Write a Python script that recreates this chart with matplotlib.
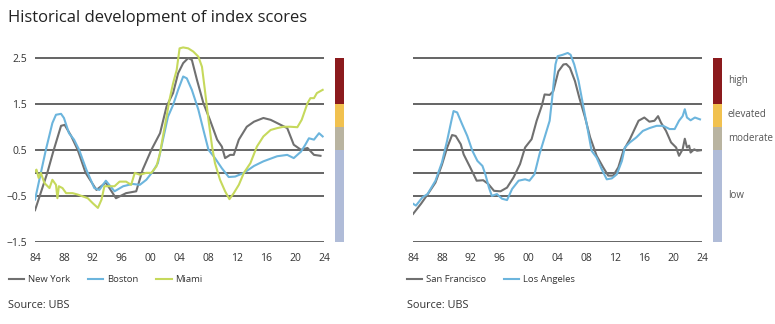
import matplotlib.pyplot as plt

plt.rcParams['font.family'] = ['Open Sans', 'DejaVu Sans']

# left panel
ny_years = [1984.0, 1985.7, 1986.5, 1987.6, 1988.1, 1989.0, 1989.9, 1991.0, 1992.5, 1993.8, 1995.2, 1996.6,
            1998.0, 1998.9, 2000.1, 2001.3, 2002.2, 2003.1, 2003.8, 2004.5, 2005.2, 2005.7, 2006.4, 2007.3,
            2008.2, 2009.2, 2009.85, 2010.3, 2011.0, 2011.5, 2012.2, 2013.3, 2014.3, 2015.6, 2016.6, 2017.5,
            2018.9, 2019.8, 2020.8, 2021.7, 2022.6, 2023.5]
ny_vals = [-0.81, 0.0, 0.45, 1.02, 1.04, 0.8, 0.5, 0.0, -0.37, -0.21, -0.55, -0.44,
           -0.4, 0.07, 0.5, 0.86, 1.44, 1.73, 2.16, 2.38, 2.49, 2.45, 2.02, 1.51,
           1.15, 0.72, 0.57, 0.32, 0.39, 0.39, 0.72, 1.0, 1.11, 1.19, 1.15, 1.08,
           0.97, 0.61, 0.5, 0.54, 0.39, 0.37]

bos_years = [1984.0, 1985.5, 1986.4, 1986.9, 1987.6, 1988.0, 1988.7, 1989.4, 1990.1, 1991.1, 1992.2, 1992.9,
             1993.8, 1995.0, 1996.2, 1997.5, 1998.5, 1999.4, 2000.3, 2001.0, 2001.7, 2002.4, 2003.1, 2003.8,
             2004.5, 2005.0, 2005.7, 2006.6, 2007.3, 2008.0, 2008.9, 2009.85, 2010.8, 2011.7, 2012.9, 2014.3,
             2015.6, 2017.5, 2018.9, 2019.8, 2020.8, 2021.4, 2021.9, 2022.6, 2023.3, 2023.8]
bos_vals = [-0.58, 0.5, 1.08, 1.26, 1.28, 1.19, 0.86, 0.72, 0.5, 0.07, -0.33, -0.37,
            -0.17, -0.4, -0.29, -0.24, -0.26, -0.15, 0.03, 0.21, 0.72, 1.22, 1.47, 1.8,
            2.09, 2.05, 1.8, 1.37, 0.93, 0.5, 0.32, 0.1, -0.09, -0.08, 0.0, 0.15,
            0.25, 0.36, 0.39, 0.32, 0.46, 0.61, 0.75, 0.72, 0.86, 0.79]

mia_years = [1984.0, 1984.2, 1984.5, 1984.8, 1985.3, 1986.0, 1986.4, 1986.9, 1987.1, 1987.3, 1987.8, 1988.3,
             1989.2, 1989.9, 1990.6, 1991.3, 1992.0, 1992.7, 1993.2, 1993.6, 1994.3, 1995.0, 1995.7, 1996.6,
             1997.3, 1997.8, 1998.5, 1999.4, 2000.1, 2000.8, 2001.3, 2001.7, 2002.2, 2002.6, 2003.1, 2003.6,
             2004.0, 2004.5, 2005.2, 2005.9, 2006.6, 2007.1, 2007.5, 2008.0, 2008.5, 2008.9, 2009.6, 2010.3,
             2010.9, 2011.5, 2012.2, 2012.9, 2013.8, 2014.7, 2015.6, 2016.6, 2017.5, 2018.4, 2019.3, 2020.3,
             2020.9, 2021.7, 2022.1, 2022.6, 2023.0, 2023.8]
mia_vals = [0.03, 0.07, -0.11, 0.0, -0.22, -0.33, -0.15, -0.26, -0.55, -0.29, -0.33, -0.44,
            -0.44, -0.47, -0.51, -0.55, -0.66, -0.76, -0.58, -0.29, -0.29, -0.29, -0.19, -0.19,
            -0.26, 0.0, -0.04, 0.0, 0.0, 0.14, 0.43, 0.79, 1.22, 1.58, 1.94, 2.23,
            2.7, 2.72, 2.7, 2.63, 2.52, 2.3, 1.8, 1.15, 0.57, 0.21, -0.15, -0.4,
            -0.57, -0.44, -0.26, 0.0, 0.21, 0.57, 0.79, 0.93, 0.97, 1.0, 1.0, 0.99,
            1.15, 1.51, 1.62, 1.62, 1.73, 1.8]

# right panel
sf_years = [1984.0, 1985.1, 1986.0, 1987.1, 1988.0, 1988.7, 1989.4, 1989.9, 1990.6, 1991.0, 1991.9, 1992.8,
            1993.7, 1994.4, 1995.2, 1996.1, 1997.0, 1997.9, 1998.8, 1999.5, 2000.4, 2001.1, 2001.8, 2002.2,
            2002.9, 2003.4, 2004.1, 2004.8, 2005.2, 2005.7, 2006.4, 2007.0, 2007.8, 2008.5, 2009.4, 2010.3,
            2011.0, 2011.7, 2012.4, 2013.1, 2014.0, 2015.2, 2016.0, 2016.7, 2017.4, 2017.9, 2018.3, 2019.0,
            2019.7, 2020.4, 2020.8, 2021.3, 2021.6, 2021.9, 2022.2, 2022.4, 2022.9, 2023.3, 2023.8]
sf_vals = [-0.89, -0.67, -0.47, -0.21, 0.18, 0.54, 0.82, 0.8, 0.62, 0.4, 0.12, -0.17,
           -0.16, -0.24, -0.39, -0.4, -0.32, -0.1, 0.19, 0.55, 0.73, 1.13, 1.45, 1.7,
           1.69, 1.77, 2.2, 2.35, 2.36, 2.28, 1.99, 1.63, 1.2, 0.77, 0.37, 0.12,
           -0.06, -0.06, 0.12, 0.48, 0.73, 1.13, 1.2, 1.11, 1.13, 1.23, 1.09, 0.91,
           0.66, 0.55, 0.37, 0.51, 0.74, 0.55, 0.59, 0.44, 0.51, 0.48, 0.49]

la_years = [1984.0, 1984.4, 1985.3, 1986.0, 1987.1, 1988.0, 1988.7, 1989.3, 1989.6, 1990.1, 1990.8, 1991.5,
            1992.2, 1992.9, 1993.6, 1994.0, 1994.5, 1994.9, 1995.6, 1996.3, 1997.0, 1997.7, 1998.6, 1999.5,
            2000.1, 2000.8, 2001.5, 2002.2, 2002.9, 2003.3, 2003.7, 2004.0, 2004.7, 2005.4, 2005.8, 2006.3,
            2006.9, 2007.5, 2008.2, 2008.7, 2009.4, 2010.1, 2010.8, 2011.5, 2012.2, 2012.9, 2013.3, 2014.0,
            2014.9, 2015.8, 2016.7, 2017.7, 2018.6, 2019.5, 2020.2, 2020.8, 2021.3, 2021.6, 2021.9, 2022.4,
            2023.0, 2023.7]
la_vals = [-0.67, -0.71, -0.53, -0.46, -0.17, 0.23, 0.69, 1.13, 1.34, 1.31, 1.05, 0.8,
           0.48, 0.26, 0.15, -0.03, -0.32, -0.5, -0.46, -0.56, -0.59, -0.35, -0.17, -0.14,
           -0.17, -0.03, 0.41, 0.77, 1.13, 1.7, 2.35, 2.53, 2.56, 2.6, 2.56, 2.35,
           1.99, 1.49, 0.91, 0.48, 0.33, 0.08, -0.14, -0.12, -0.03, 0.26, 0.55, 0.66,
           0.77, 0.91, 0.97, 1.02, 1.02, 0.95, 0.95, 1.13, 1.23, 1.38, 1.2, 1.14,
           1.2, 1.16]

x_ticks = [1984, 1988, 1992, 1996, 2000, 2004, 2008, 2012, 2016, 2020, 2024]
x_labels = ['84', '88', '92', '96', '00', '04', '08', '12', '16', '20', '24']
y_ticks = [2.5, 1.5, 0.5, -0.5, -1.5]
grid_levels = [2.5, 1.5, 0.5, 0, -0.5, -1.5]

band_edges = [-1.5, 0.5, 1.0, 1.5, 2.5]
band_colors = ['#b0bcd8', '#b9b4a1', '#f1c14f', '#8b1a1d']
band_names = ['low', 'moderate', 'elevated', 'high']
band_label_y = [-0.5, 0.75, 1.27, 2.0]

GRAY = '#707070'
BLUE = '#6cb5dd'
GREEN = '#c6d95c'
TXT = '#333333'

fig = plt.figure(figsize=(7.75, 3.24), dpi=100)
ylim = (-1.5, 2.8)


def make_panel(left, bar_left, series, show_y):
    ax = fig.add_axes([left, 0.253, 0.373, 0.612])
    for lv in grid_levels:
        ax.axhline(lv, color='#3a3a3a', lw=1.1, zorder=1)
    for yrs, vals, c, lab in series:
        ax.plot(yrs, vals, color=c, lw=1.5, label=lab, zorder=3)
    ax.set_xlim(1984, 2024)
    ax.set_ylim(*ylim)
    ax.set_xticks(x_ticks, x_labels)
    if show_y:
        ax.set_yticks(y_ticks, [f'{v:.1f}'.replace('-', '\u2212') for v in y_ticks])
    else:
        ax.set_yticks([])
    ax.tick_params(length=0, labelsize=7.5, colors=TXT)
    ax.tick_params(axis='x', pad=8)
    ax.tick_params(axis='y', pad=6)
    for s in ax.spines.values():
        s.set_visible(False)

    bx = fig.add_axes([bar_left, 0.253, 0.0116, 0.612])
    heights = [b - a for a, b in zip(band_edges[:-1], band_edges[1:])]
    bx.bar([0] * 4, heights, bottom=band_edges[:-1], width=1, color=band_colors)
    bx.set_xlim(-0.5, 0.5)
    bx.set_ylim(*ylim)
    bx.axis('off')
    return ax, bx


ax1, bx1 = make_panel(0.0452, 0.4323, [(ny_years, ny_vals, GRAY, 'New York'),
                                       (bos_years, bos_vals, BLUE, 'Boston'),
                                       (mia_years, mia_vals, GREEN, 'Miami')], True)
ax2, bx2 = make_panel(0.533, 0.920, [(sf_years, sf_vals, GRAY, 'San Francisco'),
                                     (la_years, la_vals, BLUE, 'Los Angeles')], False)

for name, yv in zip(band_names, band_label_y):
    bx2.text(1.15, yv, name, fontsize=7, color='#555555', va='center', ha='left', clip_on=False)

fig.text(0.010, 0.945, 'Historical development of index scores', fontsize=12, color='#222222', va='center')

leg_kw = dict(loc='center left', frameon=False, fontsize=6.8, borderpad=0, borderaxespad=0,
              handlelength=1.6, columnspacing=1.9, handletextpad=0.42, labelcolor=TXT,
              bbox_transform=fig.transFigure)
h1, l1 = ax1.get_legend_handles_labels()
h2, l2 = ax2.get_legend_handles_labels()
fig.legend(h1, l1, bbox_to_anchor=(0.0116, 0.136), ncol=3, **leg_kw)
fig.legend(h2, l2, bbox_to_anchor=(0.525, 0.136), ncol=2, **leg_kw)

fig.text(0.0103, 0.057, 'Source: UBS', fontsize=7.8, color=TXT, va='center')
fig.text(0.525, 0.057, 'Source: UBS', fontsize=7.8, color=TXT, va='center')

fig.savefig('out.png', dpi=100)
